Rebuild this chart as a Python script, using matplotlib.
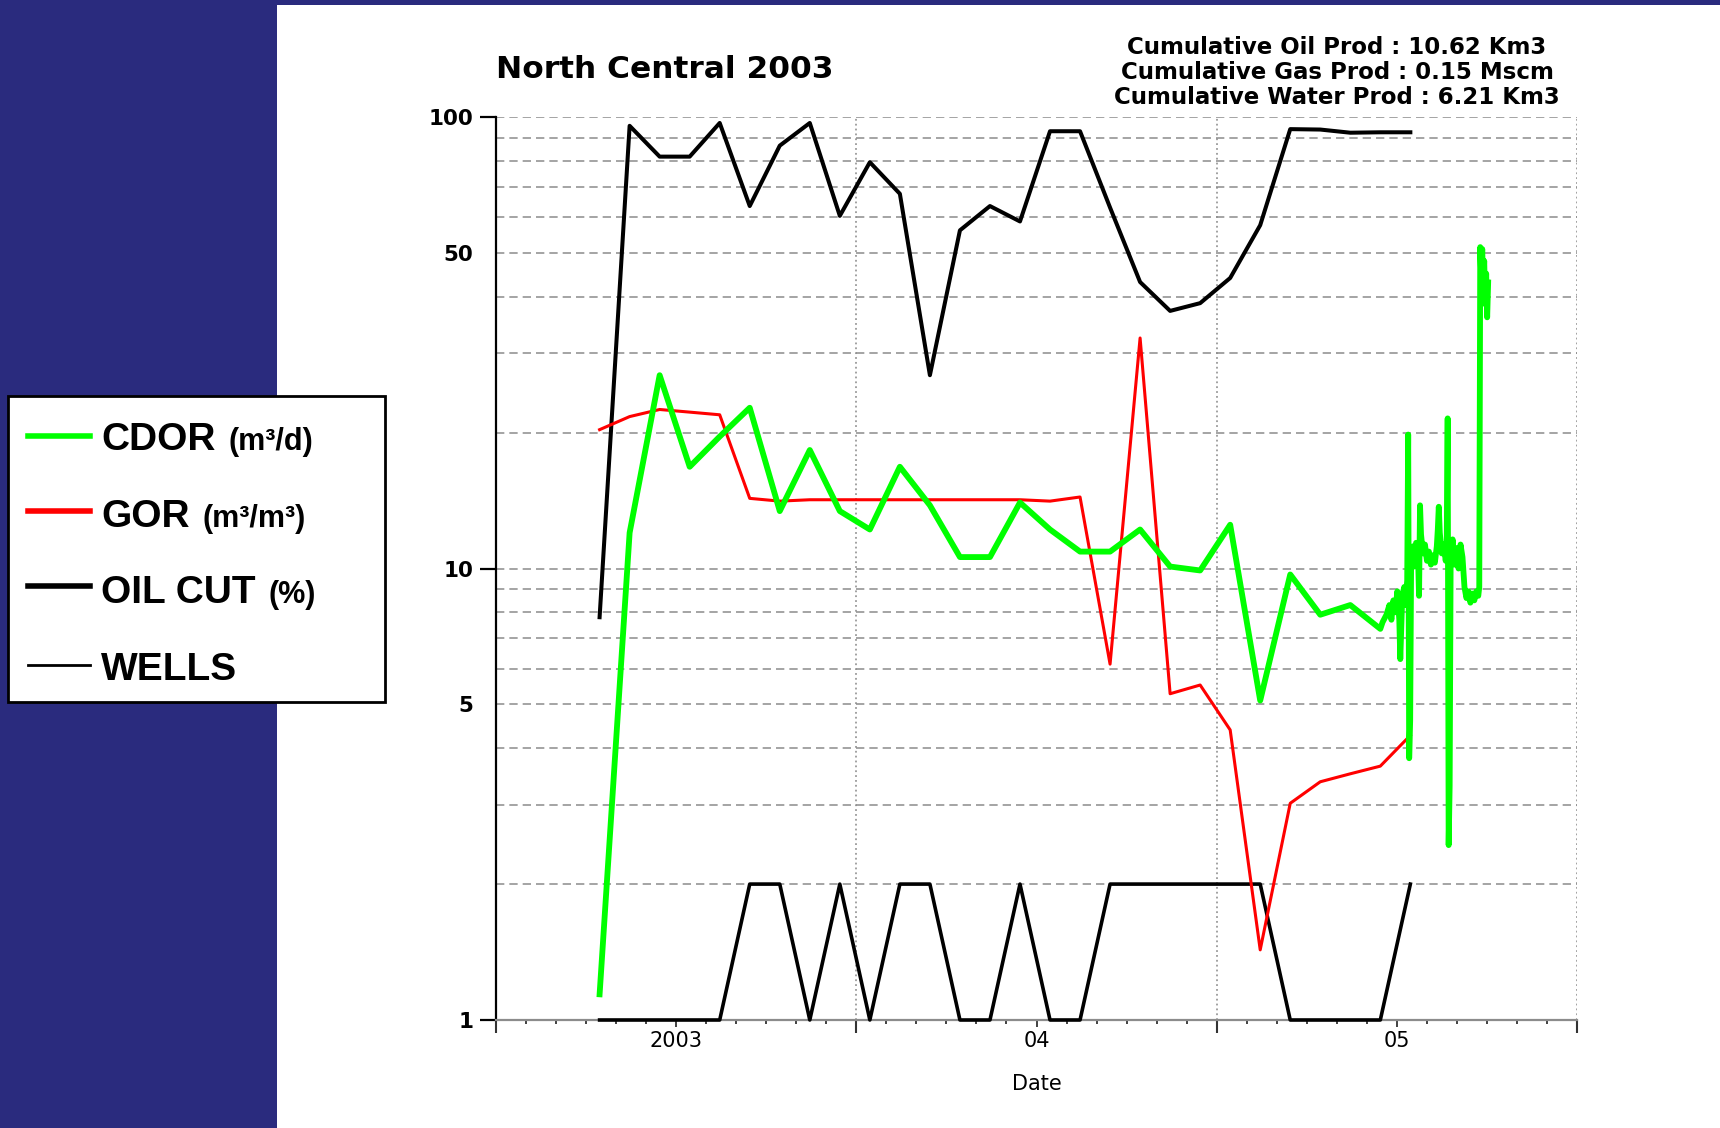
import matplotlib
matplotlib.use('Agg')
import matplotlib.pyplot as plt
from matplotlib.lines import Line2D
from matplotlib.patches import Rectangle
from matplotlib.ticker import NullFormatter
import numpy as np

plt.rcParams['font.family'] = ['DejaVu Sans']
plt.rcParams['lines.scale_dashes'] = False

W, H = 1720, 1128

# monthly values, month index counted from Jan 2003 (samples sit mid-month)
months = np.arange(3, 31)

oil_cut = [7.8, 95.6, 81.7, 81.7, 97.0, 63.5, 86.4, 97.0, 60.4, 79.4, 67.6, 26.8,
           56.1, 63.5, 58.7, 93.0, 93.0, 63.0, 43.1, 37.2, 38.7, 44.0, 57.6, 94.0,
           93.8, 92.3, 92.5, 92.5]

wells = [1, 1, 1, 1, 1, 2, 2, 1, 2, 1, 2, 2, 1, 1, 2, 1, 1, 2, 2, 2, 2, 2, 2, 1,
         1, 1, 1, 2]

gor = [20.3, 21.7, 22.5, 22.2, 21.9, 14.3, 14.1, 14.2, 14.2, 14.2, 14.2, 14.2,
       14.2, 14.2, 14.2, 14.1, 14.4, 6.14, 32.4, 5.28, 5.52, 4.39, 1.43, 3.02,
       3.37, 3.51, 3.65, 4.27]

cdor_month = [1.14, 12.0, 26.8, 16.8, 19.6, 22.7, 13.4, 18.3, 13.4, 12.2, 16.8, 13.8,
              10.6, 10.6, 14.0, 12.2, 10.9, 10.9, 12.2, 10.1, 9.9, 12.5, 5.1, 9.7,
              7.9, 8.3, 7.35]

# daily CDOR readings in 2005 (day of year)
cdor_day = [168, 172, 175, 177, 179, 181, 183, 185, 186, 188, 190, 191, 193, 194,
            195, 196, 197, 199, 200, 202, 204, 205, 206, 207, 209, 211, 213, 215,
            217, 219, 221, 223, 224, 225, 226, 228, 230, 232, 233, 234, 235, 236,
            237, 239, 241, 243, 245, 247, 249, 251, 253, 255, 257, 259, 261, 263,
            265, 266, 267, 268, 269, 270, 271, 272, 273, 274, 275]
cdor_daily = [7.6, 7.9, 8.3, 7.7, 8.5, 8.0, 8.9, 7.7, 6.3, 8.7, 9.1, 8.3, 9.4, 19.8,
              3.8, 4.6, 10.6, 11.2, 10.1, 11.4, 10.6, 8.7, 13.8, 11.9, 10.8, 11.3, 10.4, 10.9,
              10.2, 10.7, 10.3, 11.2, 12.2, 13.7, 12.0, 10.8, 11.3, 10.4, 11.0, 21.5, 2.44, 3.3,
              10.4, 11.6, 10.2, 11.1, 10.0, 11.3, 10.6, 9.1, 8.6, 8.9, 8.4, 8.8, 8.5, 8.9,
              8.7, 9.1, 51.5, 44.0, 51.0, 41.5, 48.0, 38.5, 45.0, 36.0, 43.0]

y_major = [1, 5, 10, 50, 100]
y_minor = [2, 3, 4, 6, 7, 8, 9, 20, 30, 40, 60, 70, 80, 90]
year_edges = [2003, 2004, 2005, 2006]
year_mid = [2003.5, 2004.5, 2005.5]
year_labels = ['2003', '04', '05']

header = ['Cumulative Oil Prod : 10.62 Km3',
          'Cumulative Gas Prod : 0.15 Mscm',
          'Cumulative Water Prod : 6.21 Km3']

x_month = 2003 + (months + 0.45) / 12.0
x_cdor = np.concatenate([x_month[:len(cdor_month)], 2005 + np.array(cdor_day) / 365.0])
y_cdor = np.concatenate([cdor_month, cdor_daily])

fig = plt.figure(figsize=(W / 100, H / 100), dpi=100)
fig.patch.set_facecolor('#2a2b7e')
fig.add_artist(Rectangle((277 / W, 0), 1 - 277 / W, 1 - 5 / H, transform=fig.transFigure,
                         facecolor='white', edgecolor='none', zorder=0))

ax = fig.add_axes([496 / W, 1 - 1020 / H, 1081 / W, 903 / H])
ax.set_facecolor('none')
ax.set_yscale('log')
ax.set_xlim(2003, 2006)
ax.set_ylim(1, 100)

ax.plot(x_month, wells, color='black', lw=2.6, zorder=3, clip_on=False)
ax.plot(x_month, oil_cut, color='black', lw=2.9, zorder=3)
ax.plot(x_month, gor, color='#ff0000', lw=2.2, zorder=4)
ax.plot(x_cdor, y_cdor, color='#00ff00', lw=4.2, zorder=5)

# y axis
ax.set_yticks(y_major, labels=[str(v) for v in y_major])
ax.set_yticks(y_minor, minor=True)
ax.yaxis.set_minor_formatter(NullFormatter())
ax.tick_params(axis='y', which='major', length=11.5, width=1.6, color='black',
               labelsize=15.5, pad=5)
ax.tick_params(axis='y', which='minor', length=0)
for lab in ax.get_yticklabels():
    lab.set_fontweight('bold')
for t, v in zip(ax.yaxis.get_major_ticks(), y_major):
    if v in (5, 50):
        t.tick1line.set_visible(False)
ax.yaxis.grid(True, which='both', color='#8c8c8c', linestyle=(0, (6, 3.6)), linewidth=1.1)

# x axis
ax.set_xticks(year_edges, labels=[''] * len(year_edges))
ax.set_xticks(year_mid, labels=year_labels, minor=True)
ax.tick_params(axis='x', which='major', length=9.5, width=1.5, color='#333333')
ax.tick_params(axis='x', which='minor', length=5, width=1.3, color='#333333',
               labelsize=15, pad=3)
ax.xaxis.grid(True, which='major', color='#9a9a9a', linestyle=(0, (1.3, 2.2)), linewidth=1.3)

sec = ax.secondary_xaxis('bottom')
sec.set_xticks([2003 + m / 12.0 for m in range(37) if m % 6 != 0], labels=[])
sec.tick_params(axis='x', length=3, width=1.3, color='#333333')
sec.spines['bottom'].set_visible(False)

ax.set_xlabel('Date', fontsize=15)
ax.xaxis.set_label_coords(0.5, -0.06)

for s in ['top', 'right']:
    ax.spines[s].set_visible(False)
ax.spines['left'].set_linewidth(1.6)
ax.spines['left'].set_color('black')
ax.spines['bottom'].set_linewidth(1.6)
ax.spines['bottom'].set_color('#8c8c8c')

# titles
fig.text(496 / W, 1 - 69 / H, 'North Central 2003', fontsize=22.5, fontweight='bold',
         ha='left', va='center')
for i, line in enumerate(header):
    fig.text(1337 / W, 1 - (47 + 25.5 * i) / H, line, fontsize=16.5, fontweight='bold',
             ha='center', va='center')

# legend drawn by hand (mixed font sizes)
fig.add_artist(Rectangle((8 / W, 1 - 702 / H), 377 / W, 306 / H, transform=fig.transFigure,
                         facecolor='white', edgecolor='black', linewidth=2, zorder=5))
leg_rows = [('CDOR', '(m³/d)', '#00ff00', 4.0, 436, 450),
            ('GOR', '(m³/m³)', '#ff0000', 4.0, 511, 527),
            ('OIL CUT', '(%)', 'black', 4.0, 586, 603),
            ('WELLS', '', 'black', 2.0, 665, 680)]
renderer = fig.canvas.get_renderer()
for name, unit, col, lw, yl, yb in leg_rows:
    fig.add_artist(Line2D([28 / W, 90 / W], [1 - yl / H] * 2, transform=fig.transFigure,
                          color=col, lw=lw, zorder=6))
    t = fig.text(101 / W, 1 - yb / H, name, fontsize=28, fontweight='bold',
                 family=['Liberation Sans', 'DejaVu Sans'], ha='left', va='baseline', zorder=6)
    if unit:
        bb = t.get_window_extent(renderer)
        fig.text((bb.x1 + 13) / W, 1 - yb / H, unit, fontsize=22, fontweight='bold',
                 family=['Liberation Sans', 'DejaVu Sans'], ha='left', va='baseline', zorder=6)

fig.savefig('out.png', dpi=100, facecolor=fig.get_facecolor())
